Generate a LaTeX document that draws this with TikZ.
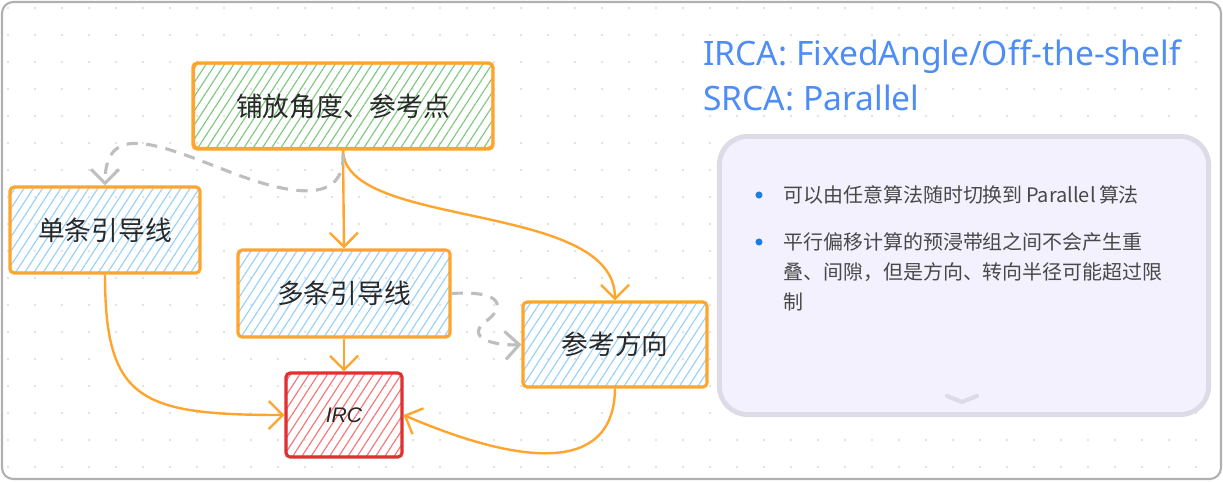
\documentclass[tikz,border=0pt]{standalone}
\usepackage{fontspec}
\setmainfont{Noto Sans CJK SC}
\newfontfamily\titlefont{Noto Sans}
\newfontfamily\ircfont{Liberation Sans}
\usetikzlibrary{arrows.meta,patterns.meta}

\definecolor{boxorange}{RGB}{255,165,45}
\definecolor{ircred}{RGB}{224,49,49}
\definecolor{greenhatch}{RGB}{125,200,125}
\definecolor{bluehatch}{RGB}{150,208,252}
\definecolor{redhatch}{RGB}{250,115,115}
\definecolor{dashgray}{RGB}{190,190,190}
\definecolor{inkgray}{RGB}{40,40,40}
\definecolor{titleblue}{RGB}{77,141,245}
\definecolor{cardfill}{RGB}{242,241,253}
\definecolor{cardline}{RGB}{220,219,230}
\definecolor{notegray}{RGB}{72,72,72}
\definecolor{bulletblue}{RGB}{30,125,225}
\definecolor{framegray}{RGB}{176,176,176}
\definecolor{dotgray}{RGB}{218,218,218}

\begin{document}
\begin{tikzpicture}[x=0.025cm, y=-0.025cm,
    box/.style={draw=boxorange, line width=2.2pt, rounded corners=3pt,
        text=inkgray, font=\fontsize{19}{23}\selectfont},
    greenbox/.style={box, pattern={Lines[angle=57,distance=5.5pt,line width=.8pt]}, pattern color=greenhatch},
    bluebox/.style={box, pattern={Lines[angle=57,distance=5.5pt,line width=.8pt]}, pattern color=bluehatch},
    redbox/.style={box, draw=ircred, pattern={Lines[angle=57,distance=5.5pt,line width=.8pt]}, pattern color=redhatch},
    rough/.style={line width=.9pt, rounded corners=3pt},
    link/.style={draw=boxorange, line width=1.7pt, -{Straight Barb[length=3.5mm,width=7mm]}},
    hint/.style={draw=dashgray, line width=2.2pt, dash pattern=on 8pt off 6pt, -{Straight Barb[length=3.5mm,width=7mm]}},
    card/.style={draw=cardline, fill=cardfill, line width=3.5pt, rounded corners=20pt},
    bullet/.style={circle, fill=bulletblue, inner sep=0pt, minimum size=5pt},
    notetext/.style={text=notegray, font=\fontsize{14.2}{21.3}\selectfont, inner sep=0pt, align=left}]

    \useasboundingbox (0,0) rectangle (1223,481);
    \fill[white] (0,0) rectangle (1223,481);
    \foreach \i in {0,...,44}
        \foreach \j in {0,...,17}
            \fill[dotgray] (8+27*\i, 8+27*\j) circle (1.1);
    \draw[framegray, line width=1.5pt, rounded corners=8pt] (2,2) rectangle (1221,479);

    % boxes
    \node[greenbox, minimum width=7.5cm, minimum height=2.15cm] (angle) at (343,106) {铺放角度、参考点};
    \node[bluebox, minimum width=4.75cm, minimum height=2.15cm] (single) at (105,230) {单条引导线};
    \node[bluebox, minimum width=5.3cm, minimum height=2.175cm] (multi) at (344,293.5) {多条引导线};
    \node[bluebox, minimum width=4.6cm, minimum height=2.125cm] (refdir) at (615,344.5) {参考方向};
    \node[redbox, minimum width=2.9cm, minimum height=2.1cm, font=\ircfont\itshape\fontsize{15}{17}\selectfont] (irc) at (344,415) {IRC};

    % second pencil stroke
    \foreach \n in {angle,single,multi,refdir}
        \draw[rough, boxorange] ([xshift=1.5pt,yshift=-1pt]\n.north west) rectangle ([xshift=-1pt,yshift=1.5pt]\n.south east);
    \draw[rough, ircred] ([xshift=1.5pt,yshift=-1pt]irc.north west) rectangle ([xshift=-1pt,yshift=1.5pt]irc.south east);

    % connectors
    \draw[link] (angle.south) -- (multi.north);
    \draw[link] (angle.south) .. controls (343,230) and (615,200) .. (refdir.north);
    \draw[link] (multi.south) -- (irc.north);
    \draw[link] (single.south) .. controls (105,400) and (140,415) .. (irc.west);
    \draw[link] (refdir.south) .. controls (614,475) and (520,465) .. (irc.east);
    \draw[hint] ([yshift=-3pt]angle.south) .. controls (345,205) and (290,195) .. (230,172)
        .. controls (160,145) and (105,120) .. (single.north);
    \draw[hint] (multi.east) .. controls (505,290) and (505,308) .. (485,322)
        .. controls (465,338) and (495,346) .. (refdir.west);

    % legend
    \node[text=titleblue, font=\titlefont\fontsize{23.9}{31.9}\selectfont, align=left, inner sep=0pt, anchor=north west] (legend) at (703,40)
        {IRCA: FixedAngle/Off-the-shelf\\SRCA: Parallel};

    % note card
    \node[card, minimum width=12.225cm, minimum height=6.95cm] (note) at (964,275.5) {};
    \node[bullet] (b1) at (759,195) {};
    \node[bullet] (b2) at (759,242) {};
    \node[notetext, anchor=west] (t1) at (783,195) {可以由任意算法随时切换到\,Parallel\,算法};
    \node[notetext, anchor=north west] (t2) at (783,232)
        {平行偏移计算的预浸带组之间不会产生重\\叠、间隙，但是方向、转向半径可能超过限\\制};
    \draw[cardline, line width=3pt, line cap=round] (947,396) -- (962,402) -- (977,396);
\end{tikzpicture}
\end{document}
